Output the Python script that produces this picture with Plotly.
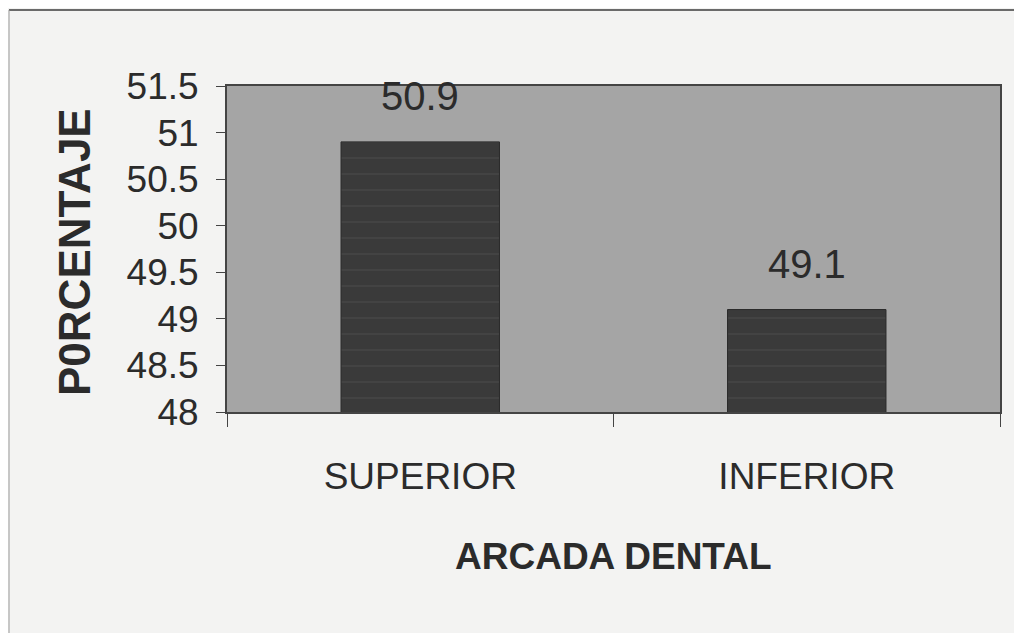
import plotly.graph_objects as go

categories = ["SUPERIOR", "INFERIOR"]
values = [50.9, 49.1]
value_labels = ["50.9", "49.1"]
y_ticks = [48, 48.5, 49, 49.5, 50, 50.5, 51, 51.5]
y_tick_labels = ["48", "48.5", "49", "49.5", "50", "50.5", "51", "51.5"]
x_title = "ARCADA DENTAL"
y_title = "P0RCENTAJE"

FONT = "Liberation Sans, Arial, sans-serif"
TXT = "#2b2b2b"

fig = go.Figure()
fig.add_trace(go.Bar(
    x=categories, y=values,
    marker=dict(color="#3a3a3a", line=dict(color="#2a2a2a", width=1),
                pattern=dict(shape="-", fgcolor="#505050", size=16, solidity=0.1)),
    width=0.41,
))

for c, v, t in zip(categories, values, value_labels):
    fig.add_annotation(x=c, y=v, text=t, showarrow=False, yanchor="bottom",
                       yshift=22, font=dict(family=FONT, size=40, color=TXT))

fig.add_annotation(x=0.5, y=-0.442, xref="paper", yref="paper", text="<b>" + x_title + "</b>",
                   xanchor="center", yanchor="middle",
                   showarrow=False, font=dict(family=FONT, size=37, color=TXT))
fig.add_annotation(x=-0.197, y=0.49, xref="paper", yref="paper", text="<b>" + y_title + "</b>",
                   xanchor="center", yanchor="middle",
                   textangle=-90, showarrow=False, font=dict(family=FONT, size=44, color=TXT))

# outer frame lines
fig.add_shape(type="line", xref="paper", yref="paper", x0=-0.282, x1=1.04, y0=1.233, y1=1.233,
              line=dict(color="#6a6a6a", width=2))
fig.add_shape(type="line", xref="paper", yref="paper", x0=-0.282, x1=-0.282, y0=1.233, y1=-0.70,
              line=dict(color="#9a9a9a", width=1))

fig.update_layout(
    width=1014, height=625,
    margin=dict(l=219, r=22, t=78, b=221),
    paper_bgcolor="#f3f3f2",
    plot_bgcolor="#a5a5a5",
    showlegend=False,
    font=dict(family=FONT, color=TXT),
)
fig.update_xaxes(
    type="category", tickson="boundaries", ticks="outside", ticklen=13, tickcolor="#444",
    showline=True, linecolor="#444", linewidth=2, mirror=True,
    tickfont=dict(family=FONT, size=37, color=TXT), ticklabelstandoff=31,
    showgrid=False,
)
fig.update_yaxes(
    range=[48, 51.5], tickvals=y_ticks, ticktext=y_tick_labels,
    ticks="outside", ticklen=9, tickcolor="#444",
    showline=True, linecolor="#444", linewidth=2, mirror=True,
    tickfont=dict(family=FONT, size=37, color=TXT), ticklabelstandoff=10,
    showgrid=False, zeroline=False,
)

fig.write_html("out.html")
